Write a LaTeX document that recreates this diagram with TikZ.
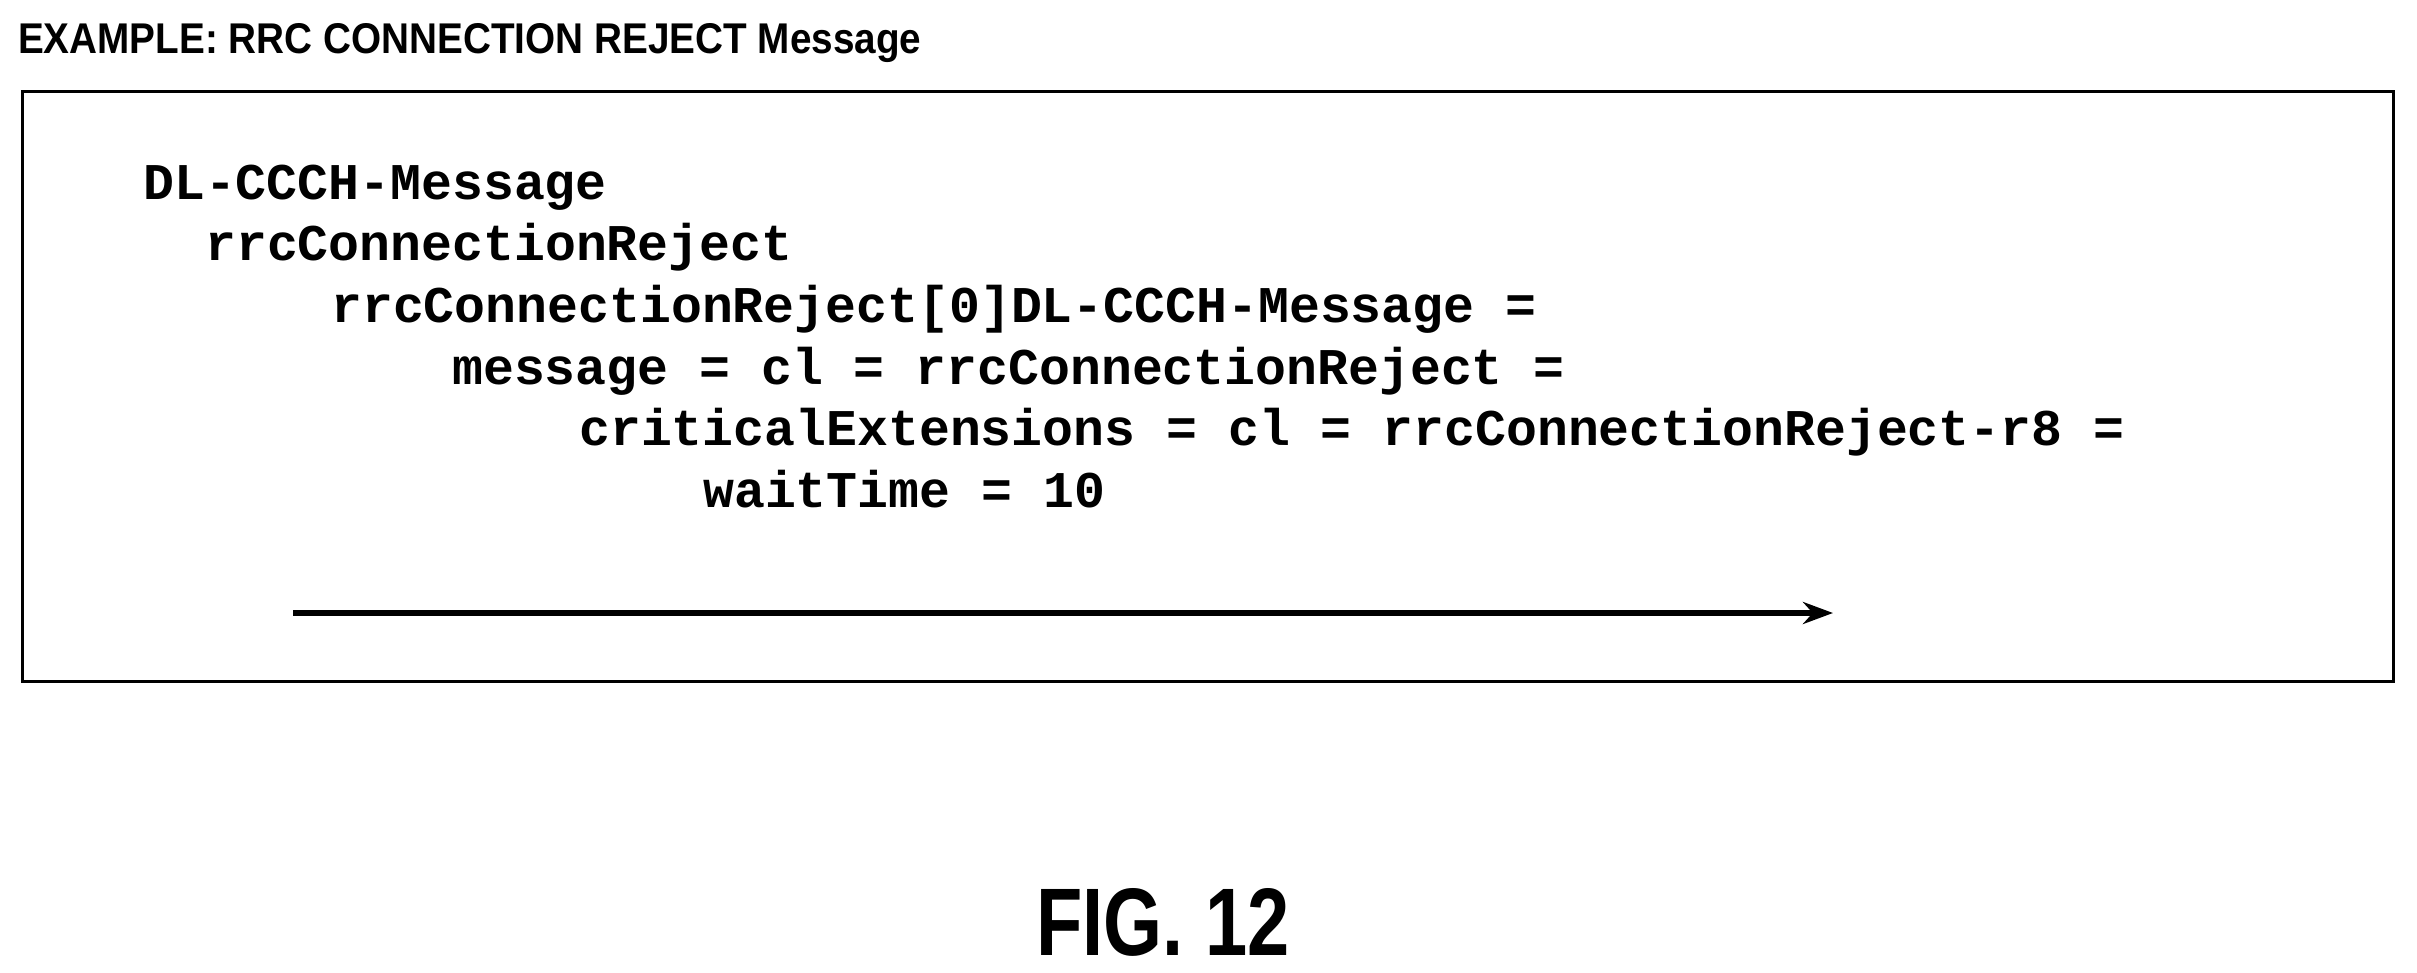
\documentclass[tikz,border=0pt]{standalone}
\usepackage{fontspec}
\usetikzlibrary{arrows.meta}
\setmainfont{Liberation Sans}
\setmonofont{Liberation Mono}
\begin{document}
\begin{tikzpicture}[x=1pt,y=-1pt,
  code/.style={anchor=mid west,inner sep=0pt,font=\ttfamily\bfseries\fontsize{51.5}{60}\selectfont}]
\useasboundingbox (0,0) rectangle (2417,973);
\node[anchor=mid west,inner sep=0pt,xscale=0.90,font=\bfseries\fontsize{43}{50}\selectfont] (title) at (18,51) {EXAMPLE: RRC CONNECTION REJECT Message};
\draw[line width=3pt] (22,92) rectangle (2393,681);
\node[code] (l1) at (143,197) {DL-CCCH-Message};
\node[code] (l2) at (205,258) {rrcConnectionReject};
\node[code] (l3) at (331,320) {rrcConnectionReject[0]DL-CCCH-Message =};
\node[code] (l4) at (452,382) {message = cl = rrcConnectionReject =};
\node[code] (l5) at (579,443) {criticalExtensions = cl = rrcConnectionReject-r8 =};
\node[code] (l6) at (703,505) {waitTime = 10};
\coordinate (a1) at (293,613);
\coordinate (a2) at (1833,613);
\draw[line width=6pt,-{Stealth[length=30pt,width=22pt]}] (a1) -- (a2);
\node[inner sep=0pt,xscale=0.79,font=\bfseries\fontsize{96}{110}\selectfont] (fig) at (1163,922) {FIG. 12};
\end{tikzpicture}
\end{document}
